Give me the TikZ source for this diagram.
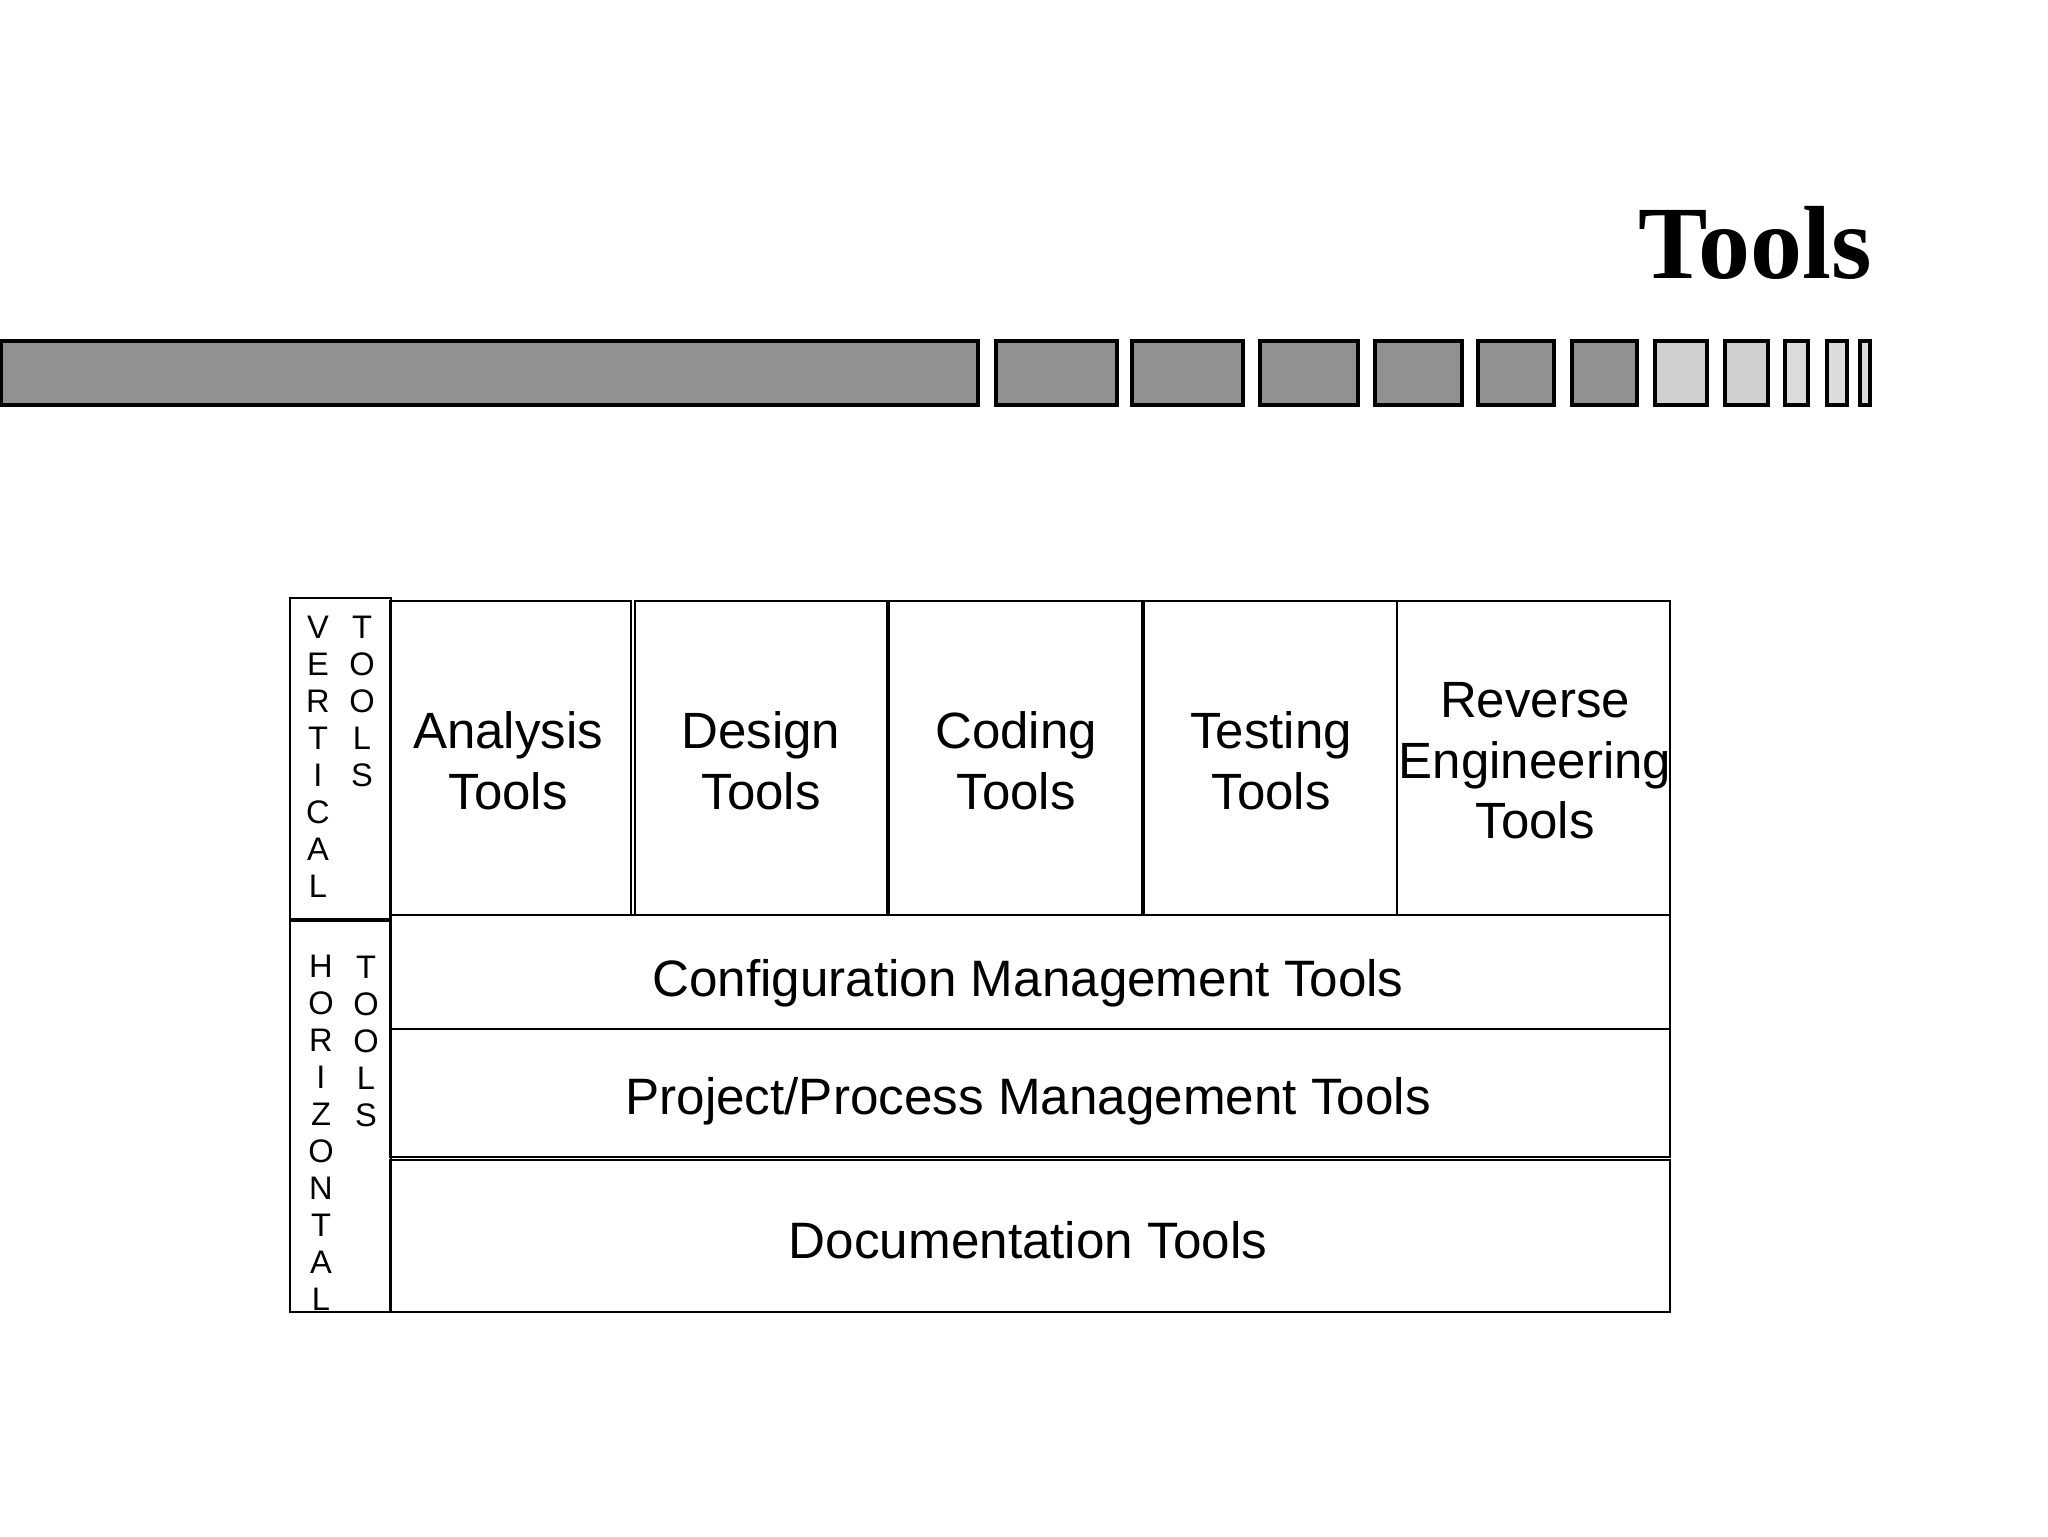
\documentclass[tikz,border=0pt]{standalone}
\usepackage{fontspec}
\setmainfont{Liberation Serif}
\newfontfamily\arialfont{Liberation Sans}
\definecolor{bardark}{HTML}{919191}
\definecolor{barlight}{HTML}{D0D0D0}
\definecolor{barpale}{HTML}{DCDCDC}
\begin{document}
\begin{tikzpicture}[x={(0.5pt,0pt)},y={(0pt,-0.5pt)},
  seg/.style={draw=black,line width=1.6pt},
  cell/.style={draw=black,line width=1.2pt},
  thickline/.style={draw=black,line width=2pt},
  celltext/.style={font=\arialfont\fontsize{25.5}{30.3}\selectfont,align=center,inner sep=0pt},
  rowtext/.style={font=\arialfont\fontsize{25.6}{30}\selectfont,inner sep=0pt,anchor=base},
  vlab/.style={font=\arialfont\fontsize{16.3}{18.5}\selectfont,align=center,inner sep=0pt,anchor=north},
  titletext/.style={font=\bfseries\fontsize{52}{60}\selectfont,inner sep=0pt,anchor=base east}]
\useasboundingbox (0,0) rectangle (2048,1536);
\fill[white] (0,0) rectangle (2048,1536);

% title
\node[titletext] (title) at (1872,278) {Tools};

% decorative bar
\foreach \xa/\xb/\col in {1.6/978/bardark, 996/1117/bardark, 1132/1243/bardark, 1260/1358/bardark,
  1375/1462/bardark, 1478/1554/bardark, 1572/1637/bardark, 1655/1707/barlight, 1725/1768/barlight,
  1785/1808/barpale, 1827/1847/barpale, 1860/1870/barpale}
  \draw[seg,fill=\col] (\xa,341) rectangle (\xb,405);

% left label column
\draw[cell] (290,598) rectangle (391,919);
\draw[cell] (290,920) rectangle (391,1312);
\draw[thickline] (290,920) -- (391,920);
\node[vlab] (vert) at (318,616) {V\\E\\R\\T\\I\\C\\A\\L};
\node[vlab] (verttools) at (362,616) {T\\O\\O\\L\\S};
\node[vlab] (horiz) at (321,955) {H\\O\\R\\I\\Z\\O\\N\\T\\A\\L};
\node[vlab] (horiztools) at (366,956) {T\\O\\O\\L\\S};

% top row cells
\draw[cell] (390,601) rectangle (631,915);
\draw[cell] (635,601) rectangle (887,915);
\draw[cell] (889,601) rectangle (1142,915);
\draw[cell] (1144,601) rectangle (1397,915);
\draw[cell] (1397,601) rectangle (1670,915);
\node[celltext] (analysis) at (508,761) {Analysis\\Tools};
\node[celltext] (design) at (761,761) {Design\\Tools};
\node[celltext] (coding) at (1016,761) {Coding\\Tools};
\node[celltext] (testing) at (1271,761) {Testing\\Tools};
\node[celltext] (reverse) at (1535,761) {Reverse\\Engineering\\Tools};

% horizontal rows
\draw[cell] (390,915) rectangle (1670,1029);
\draw[cell] (390,1029) rectangle (1670,1157);
\draw[cell] (390,1160) rectangle (1670,1312);
\node[rowtext] (config) at (1028,996) {Configuration Management Tools};
\node[rowtext] (project) at (1028,1114) {Project/Process Management Tools};
\node[rowtext] (doc) at (1028,1258) {Documentation Tools};
\end{tikzpicture}
\end{document}
